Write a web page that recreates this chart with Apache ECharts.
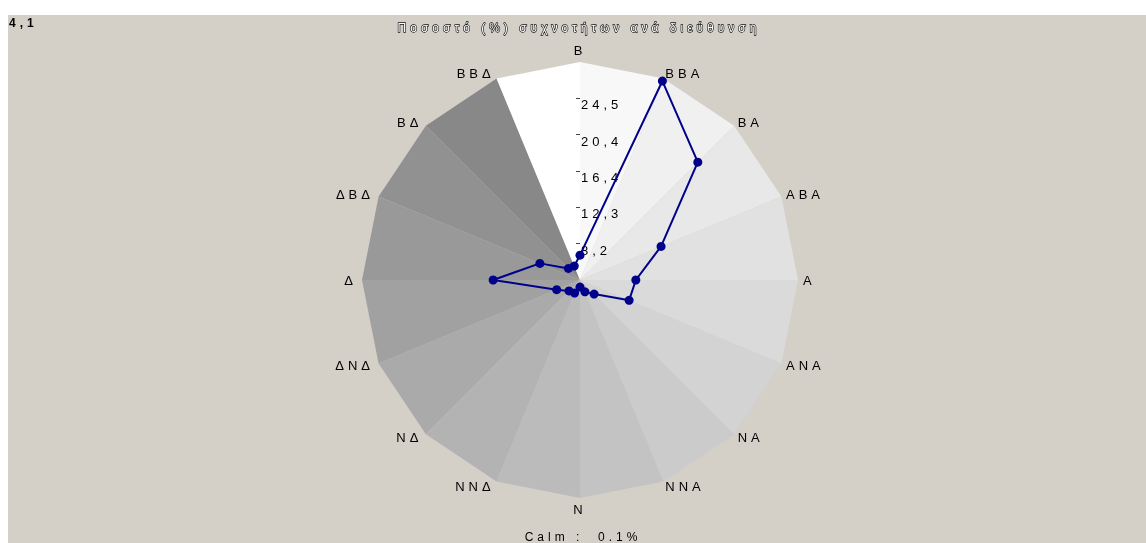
<!DOCTYPE html>
<html>
<head>
<meta charset="utf-8">
<script src="https://cdn.jsdelivr.net/npm/echarts@6/dist/echarts.min.js"></script>
<style>
  html, body { margin: 0; padding: 0; background: #ffffff; }
  #chart { position: absolute; left: 8px; top: 15px; width: 1138px; height: 528px; background: #d4d0c8; }
  /* the original output uses widely spaced lettering */
  #chart svg { will-change: transform; }
  #chart svg text { letter-spacing: 4px; }
</style>
</head>
<body>
<div id="chart"></div>
<script>
// directions, clockwise from North (Greek abbreviations)
const directions = ['Β', 'ΒΒΑ', 'ΒΑ', 'ΑΒΑ', 'Α', 'ΑΝΑ', 'ΝΑ', 'ΝΝΑ', 'Ν', 'ΝΝΔ', 'ΝΔ', 'ΔΝΔ', 'Δ', 'ΔΒΔ', 'ΒΔ', 'ΒΒΔ'];
// frequency (%) per direction, same order
const frequencies = [6.9, 28.4, 22.9, 14.0, 10.4, 10.1, 6.35, 5.55, 4.9, 5.7, 5.85, 6.95, 13.9, 9.0, 5.95, 5.8];
// radial axis: starts at the interval, ticks every 4.1
const axisMin = 4.1;
const axisMax = 28.7;
const axisStep = 4.1;
const tickLabels = ['', '8,2', '12,3', '16,4', '20,4', '24,5', ''];
// background sector shades, sector i spans direction i -> i+1 (clockwise)
const sectorColors = ['#f8f8f8', '#f0f0f0', '#e8e8e8', '#e1e1e1', '#dadada', '#d3d3d3', '#cbcbcb', '#c3c3c3',
  '#bbbbbb', '#b3b3b3', '#aaaaaa', '#a1a1a1', '#999999', '#919191', '#888888', '#ffffff'];
const calmText = 'Calm :  0.1%';
const cornerText = '4,1';

const chart = echarts.init(document.getElementById('chart'), null, { renderer: 'svg' });
const font = 'Liberation Sans, Arial, sans-serif';
const n = directions.length;

// echarts radar runs counter-clockwise, so feed it N, NNW, NW, ... to get a clockwise rose
const order = directions.map((d, i) => (n - i) % n);

const indicators = order.map((k, p) => ({
  name: directions[k], min: axisMin, max: axisMax,
  axisLabel: { show: p === 0 },
  axisTick: { show: p === 0 }
}));

const sectors = sectorColors.map((c, s) => ({
  value: order.map(k => (k === s || k === (s + 1) % n) ? axisMax : axisMin),
  symbol: 'none',
  lineStyle: { width: 0, color: c },
  areaStyle: { color: c, opacity: 1 }
}));

chart.setOption({
  animation: false,
  graphic: [
    { type: 'text', left: 1, top: 2, style: { text: cornerText, fill: '#000', font: 'bold 12px ' + font } },
    {
      type: 'text', x: 571, y: 13,
      style: {
        text: 'Ποσοστό (%) συχνοτήτων ανά διεύθυνση', fill: '#ffffff', font: '12px ' + font,
        align: 'center', verticalAlign: 'middle', stroke: '#111', lineWidth: 1.3
      }
    },
    { type: 'text', x: 575, y: 522, style: { text: calmText, fill: '#000', font: '12px ' + font, align: 'center', verticalAlign: 'middle' } }
  ],
  radar: {
    center: [572, 265],
    radius: 218,
    shape: 'polygon',
    startAngle: 90,
    splitNumber: 6,
    z: 4,
    indicator: indicators,
    axisName: { color: '#000', fontFamily: font, fontSize: 13 },
    nameGap: 5,
    axisLine: { show: false },
    splitLine: { show: false },
    splitArea: { show: false },
    axisTick: { show: true, length: 4, lineStyle: { color: '#444' } },
    axisLabel: {
      show: true,
      color: '#000', fontFamily: font, fontSize: 13, margin: -1,
      align: 'left', verticalAlign: 'top',
      showMinLabel: false, showMaxLabel: false,
      formatter: v => tickLabels[Math.round((v - axisMin) / axisStep)] || ''
    }
  },
  series: [
    { type: 'radar', silent: true, z: 1, data: sectors },
    {
      type: 'radar', z: 5,
      symbol: 'circle', symbolSize: 9,
      lineStyle: { color: '#00008b', width: 2 },
      itemStyle: { color: '#00008b' },
      data: [{ value: order.map(k => frequencies[k]), name: 'Συχνότητα' }]
    }
  ]
});
</script>
</body>
</html>
